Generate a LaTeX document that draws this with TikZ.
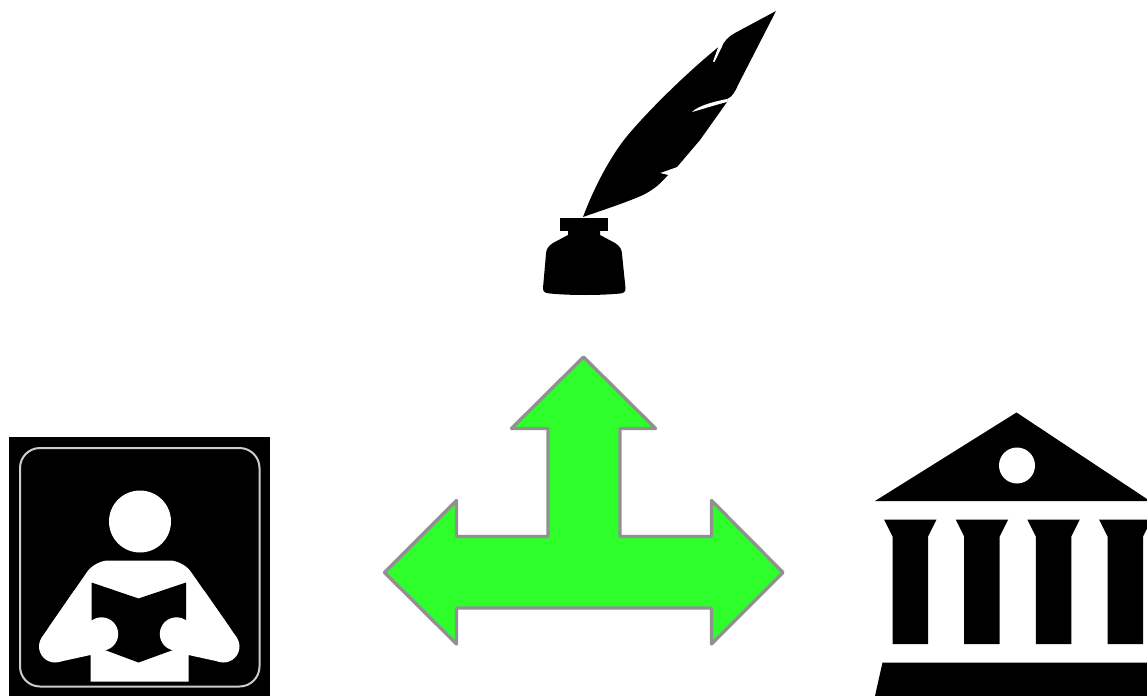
\documentclass[tikz,border=0pt]{standalone}
\definecolor{ArrowGreen}{rgb}{0.18, 1.0, 0.17}
\definecolor{ArrowGray}{rgb}{0.57, 0.57, 0.57}
\definecolor{FrameGray}{rgb}{0.80, 0.80, 0.80}

\begin{document}
\begin{tikzpicture}[
    x=0.75pt, y=-0.75pt,
    ink/.style={fill=black, draw=none},
    paper/.style={fill=white, draw=none},
    arrowshape/.style={fill=ArrowGreen, draw=ArrowGray, line width=2.5pt, line join=round},
]
\clip (0,0) rectangle (1147,696);

% ---- quill and inkwell ----
\fill[ink] (776,11) -- (735,33) .. controls (729,36) and (723,42) .. (721.5,48) -- (718.5,47)
    .. controls (695,66) and (655,103) .. (628,135)
    .. controls (612,154) and (595,185) .. (583,217)
    .. controls (600,211) and (625,203) .. (643,195)
    .. controls (655,189) and (662,182) .. (668,175)
    -- (660,173) -- (677,167) -- (700,140) -- (727,102) -- (727,99)
    .. controls (732,97) and (735,92) .. (738,85) -- cycle;
\fill[paper] (718.5,46.5) -- (721.5,47.5) -- (714.5,62) -- (713,61.5) -- cycle;
\fill[paper] (692,112) .. controls (698,106) and (712,102) .. (727,99) -- (727,102) .. controls (715,105) and (703,109) .. (692,112) -- cycle;
\fill[ink] (559.5,218) rectangle (607.5,231);
\fill[ink] (568,231) -- (568,235) -- (553,243) .. controls (548,246) and (546,250) .. (546,254)
    -- (543,288) .. controls (543,292) and (545,293) .. (550,293.5)
    .. controls (570,295.5) and (600,295.5) .. (620,293.5)
    .. controls (624,293) and (625.5,292) .. (625.5,288)
    -- (622,254) .. controls (622,250) and (620,246) .. (615,243) -- (600,235) -- (600,231) -- cycle;

% ---- reader sign ----
\fill[ink] (9,437) rectangle (270,696);
\draw[FrameGray, line width=1.5pt, rounded corners=15pt] (20,448) rectangle (259.5,686.5);
\fill[paper] (140,521.5) circle [radius=31];
\fill[paper, rounded corners=10pt] (140,560.5) -- (183,560.5) -- (236.6,637.3) -- (41.9,637.3) -- (95,560.5) -- cycle;
\fill[paper] (203.6,590) -- (236.6,637.3) -- (220.5,662) -- (188.5,655) -- (188.5,681.5) -- (90.5,681.5)
    -- (90.5,655) -- (58.5,662) -- (41.9,637.3) -- (74.6,590) -- cycle;
\fill[paper] (55,646.5) circle [radius=16];
\fill[paper] (223.5,646.5) circle [radius=16];
\fill[ink] (91.5,582.5) -- (138.5,598.5) -- (186,582.5) -- (186,620) -- (176.5,634) -- (173,650) -- (138.5,662.5) -- (105,650) -- (101.5,634) -- (91.5,620) -- cycle;
\fill[paper] (101.5,634) circle [radius=16.7];
\fill[paper] (176.5,634) circle [radius=16.7];

% ---- three-way arrow ----
\draw[arrowshape] (583.5,357) -- (655.5,428.5) -- (620,428.5) -- (620,536.5) -- (711.5,536.5) -- (711.5,500.5)
    -- (783,572.5) -- (711.5,644) -- (711.5,608) -- (456.5,608) -- (456.5,644)
    -- (384.5,572.5) -- (456.5,500.5) -- (456.5,536.5) -- (548,536.5) -- (548,428.5) -- (511.5,428.5) -- cycle;

% ---- temple ----
\fill[ink] (1016.5,412.5) -- (1150,501) -- (875,501) -- cycle;
\fill[paper] (1017,465.5) circle [radius=18];
\foreach \cx in {884,955.7,1027.3,1099}
    \fill[ink] (\cx,519.5) -- ++(52.5,0) -- ++(-8.5,17) -- ++(0,107.5) -- ++(-35.5,0) -- ++(0,-107.5) -- cycle;
\fill[ink] (882.5,662.5) -- (1147,662.5) -- (1147,696) -- (875,696) -- cycle;

\end{tikzpicture}
\end{document}
